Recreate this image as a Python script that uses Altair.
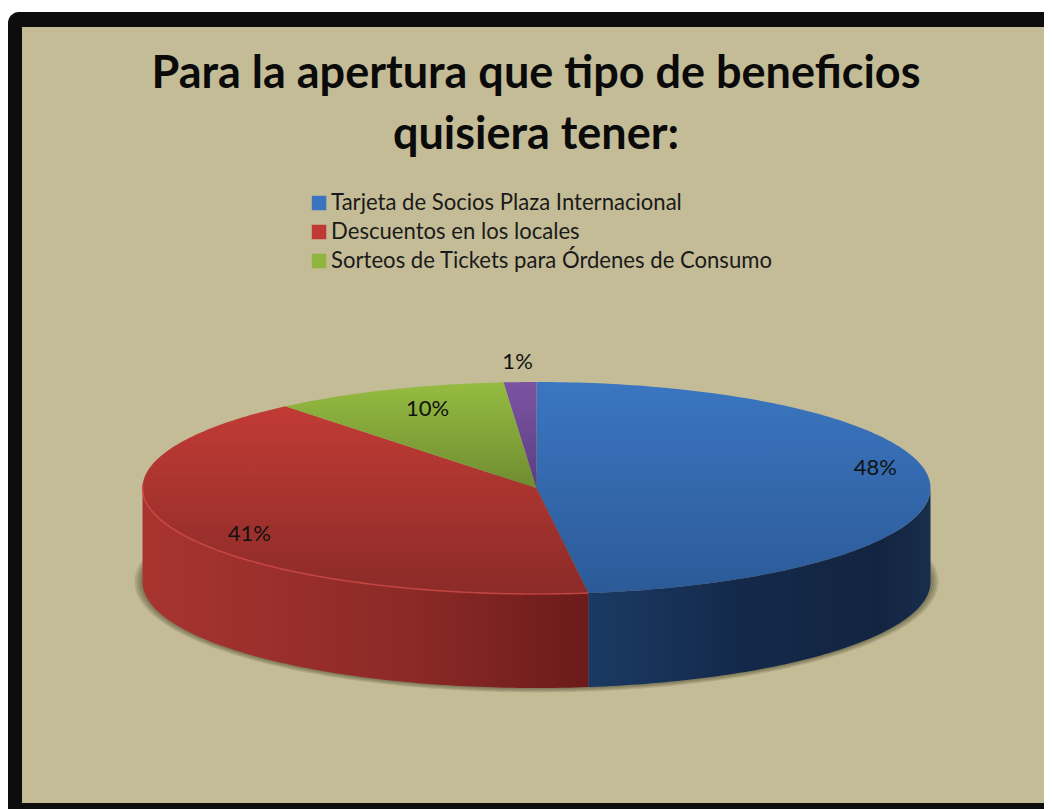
import math
import altair as alt
import pandas as pd

TITLE_LINES = ["Para la apertura que tipo de beneficios", "quisiera tener:"]
LEGEND_NAMES = ["Tarjeta de Socios Plaza Internacional", "Descuentos en los locales",
                "Sorteos de Tickets para Órdenes de Consumo"]
LEGEND_COLORS = ["#3a74be", "#c03a35", "#8fb53f"]
SLICE_NAMES = LEGEND_NAMES + ["Otros"]
SHARES = [47.9, 41.1, 9.67, 1.33]
LABELS = ["48%", "41%", "10%", "1%"]

# Drawing parameters of the tilted pie
CX, CY, RX, RY, DEPTH = 536.5, 488, 394, 106, 94
LABEL_RADIAL = [0.862, 0.795, 0.732, 1.15]
LABEL_LIFT = [-14, 12, -7, -4]
TOP_GRADS = [("#3b76c1", "#2c5a98"), ("#c23b35", "#8b2b28"),
             ("#95bc41", "#6f8c31"), ("#7c54a2", "#5b3d82")]

W, H = 1036, 801
xs = alt.Scale(domain=[8, 1044], range=[0, W], nice=False, zero=False)
ys = alt.Scale(domain=[8, 809], range=[0, H], nice=False, zero=False)
X = lambda f: alt.X(f, type="quantitative", scale=xs, axis=None)
Y = lambda f: alt.Y(f, type="quantitative", scale=ys, axis=None)


def px(a):
    return CX + RX * math.sin(math.radians(a))


def py(a):
    return CY - RY * math.cos(math.radians(a))


def arc_angles(a0, a1, step=1.0):
    out = [a0]
    a = a0 + step
    while a < a1:
        out.append(a)
        a += step
    out.append(a1)
    return out


edges = [0.0]
for s in SHARES:
    edges.append(edges[-1] + s * 3.6 * 100 / sum(SHARES))


def grad_v(top, bottom):
    return alt.LinearGradient(gradient="linear", x1=0, y1=0, x2=0, y2=1,
                              stops=[alt.GradientStop(offset=0, color=top),
                                     alt.GradientStop(offset=1, color=bottom)])


def grad_h(stops):
    return alt.LinearGradient(gradient="linear", x1=0, y1=0, x2=1, y2=0,
                              stops=[alt.GradientStop(offset=o, color=c) for o, c in stops])


layers = []

# Frame
layers.append(alt.Chart(pd.DataFrame({"a": [0]})).mark_rect(color="#0d0d0d", cornerRadiusTopLeft=11).encode(
    x=alt.value(0), x2=alt.value(W), y=alt.value(4), y2=alt.value(H)))
layers.append(alt.Chart(pd.DataFrame({"a": [0]})).mark_rect(color="#c4bc96").encode(
    x=alt.value(14), x2=alt.value(W), y=alt.value(19), y2=alt.value(795)))

# Soft shadow below the pie
rows = []
for ring, grow in enumerate([2, 4, 6, 8]):
    rx, ry = RX + grow, RY + grow * 0.55
    for a in arc_angles(90, 270, 1):
        x = CX + rx * math.sin(math.radians(a))
        dy = ry * abs(math.cos(math.radians(a)))
        rows.append({"x": x, "y": CY + DEPTH + dy, "y0": CY + DEPTH - dy, "ring": ring})
layers.append(alt.Chart(pd.DataFrame(rows)).mark_area(color="#3a3a20", opacity=0.15).encode(
    x=X("x"), y=Y("y"), y2="y0", detail="ring:N"))

# Side walls
WALLS = [
    (90, edges[1], [(0, "#1a3a63"), (0.45, "#14294a"), (0.85, "#122440"), (1, "#182e4c")]),
    (edges[1], 270, [(0, "#a8342f"), (0.3, "#9a2f2b"), (0.6, "#8c2a27"), (1, "#6b1b1a")]),
]
for a0, a1, stops in WALLS:
    d = pd.DataFrame([{"x": px(a), "y": py(a), "yb": py(a) + DEPTH} for a in arc_angles(a0, a1)])
    layers.append(alt.Chart(d).mark_area(fill=grad_h(stops)).encode(
        x=X("x"), y=Y("y"), y2="yb"))

# Top faces
for i, name in enumerate(SLICE_NAMES):
    pts = [(CX, CY)] + [(px(a), py(a)) for a in arc_angles(edges[i], edges[i + 1])]
    d = pd.DataFrame({"x": [p[0] for p in pts], "y": [p[1] for p in pts], "i": range(len(pts))})
    layers.append(alt.Chart(d).mark_line(fill=grad_v(*TOP_GRADS[i]), stroke="transparent", strokeWidth=0).encode(
        x=X("x"), y=Y("y"), order=alt.Order("i:Q")))

# Light rim along the red slice
rim = pd.DataFrame([{"x": px(a), "y": py(a)} for a in arc_angles(edges[1], 272)])
layers.append(alt.Chart(rim).mark_line(stroke="#d4494a", strokeWidth=1.6, opacity=0.75).encode(
    x=X("x"), y=Y("y")))

# Percentage labels
lab_rows = []
for i, t in enumerate(LABELS):
    mid = (edges[i] + edges[i + 1]) / 2
    f = LABEL_RADIAL[i]
    lab_rows.append({"x": CX + RX * f * math.sin(math.radians(mid)),
                     "y": CY - RY * f * math.cos(math.radians(mid)) + LABEL_LIFT[i],
                     "t": t})
layers.append(alt.Chart(pd.DataFrame(lab_rows)).mark_text(
    font="Lato", fontSize=22, color="#111111", baseline="middle", align="center").encode(
    x=X("x"), y=Y("y"), text="t:N"))

# Legend carrier, hidden below the pie's top face
leg = pd.DataFrame({"name": LEGEND_NAMES, "x": [CX] * 3, "y": [CY] * 3})
legend_layer = alt.Chart(leg).mark_square(size=1, opacity=0).encode(
    x=X("x"), y=Y("y"),
    color=alt.Color("name:N",
                    scale=alt.Scale(domain=LEGEND_NAMES, range=LEGEND_COLORS),
                    legend=alt.Legend(title=None, orient="none", legendX=300, legendY=183,
                                      symbolType="square", symbolSize=210, symbolOpacity=1,
                                      symbolStrokeWidth=0,
                                      labelFont="Lato", labelFontSize=22.1, labelColor="#1a1a1a",
                                      labelLimit=600, labelOffset=1, rowPadding=5,
                                      clipHeight=24)))
layers.append(legend_layer)

chart = alt.layer(*layers).properties(
    width=W, height=H, padding=0, background="white",
    title=alt.TitleParams(text=TITLE_LINES, font="Lato", fontSize=45, fontWeight="bold", color="#0a0a0a",
                          anchor="middle", baseline="top", offset=0, dy=150, dx=10, lineHeight=61),
).configure_view(stroke=None).properties(autosize=alt.AutoSizeParams(type="none"))

chart.save("out.html", embed_options={"renderer": "svg", "actions": False})
